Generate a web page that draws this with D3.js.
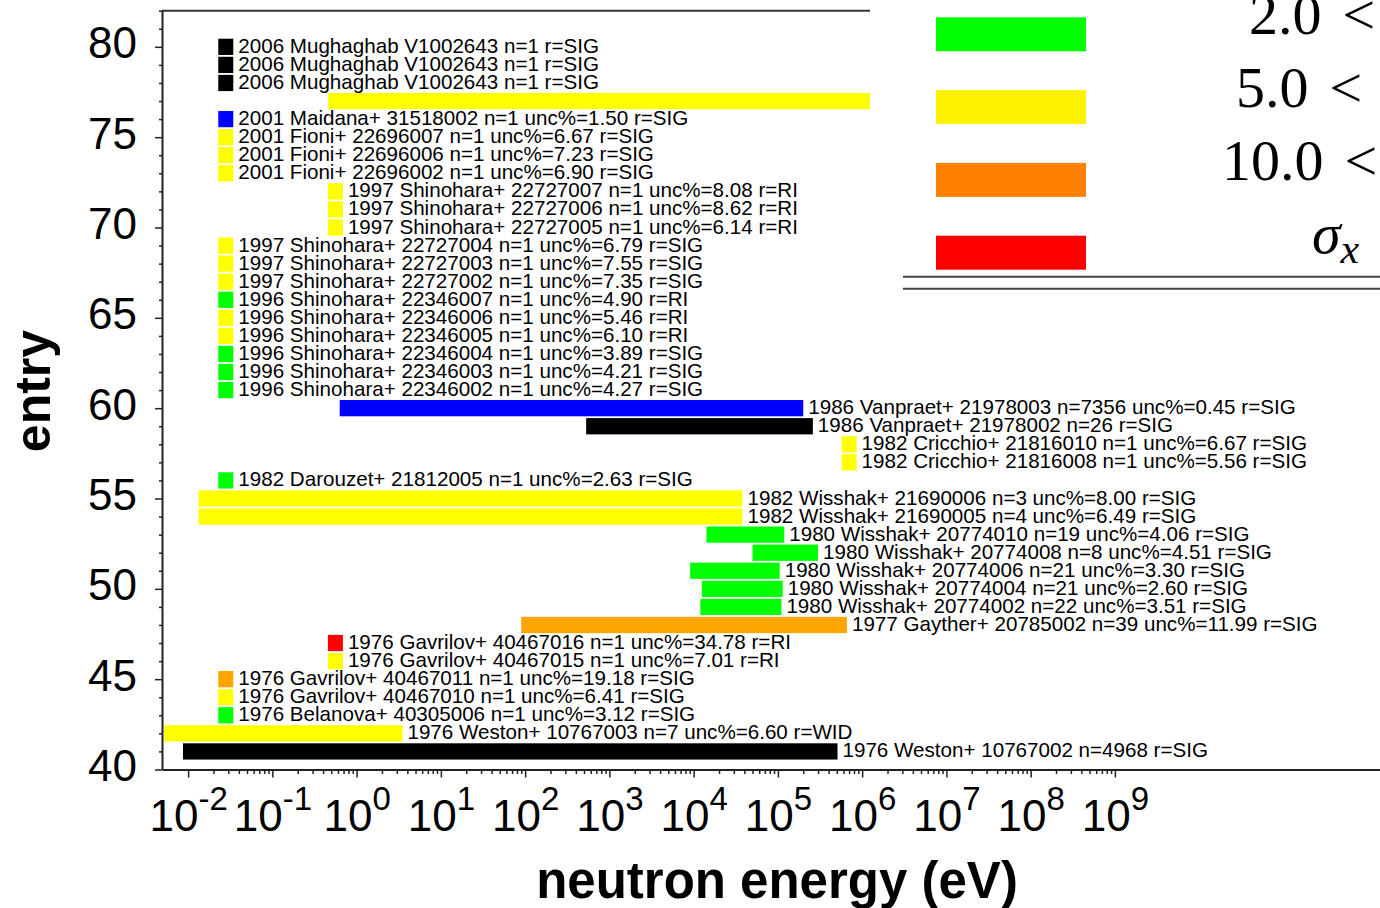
<!DOCTYPE html>
<html>
<head>
<meta charset="utf-8">
<script src="https://cdn.jsdelivr.net/npm/d3@7"></script>
<style>
  body { margin: 0; background: #fff; }
  svg { display: block; font-family: "Liberation Sans", Arial, sans-serif; }
</style>
</head>
<body>
<svg id="chart" width="1380" height="908"></svg>
<script>
// one row per EXFOR entry, top to bottom
const entries = [80, 79, 78, 77, 76, 75, 74, 73, 72, 71, 70, 69, 68, 67, 66, 65, 64, 63, 62, 61,
  60, 59, 58, 57, 56, 55, 54, 53, 52, 51, 50, 49, 48, 47, 46, 45, 44, 43, 42, 41];

const labels = [
  '2006 Mughaghab V1002643 n=1 r=SIG',
  '2006 Mughaghab V1002643 n=1 r=SIG',
  '2006 Mughaghab V1002643 n=1 r=SIG',
  '',
  '2001 Maidana+ 31518002 n=1 unc%=1.50 r=SIG',
  '2001 Fioni+ 22696007 n=1 unc%=6.67 r=SIG',
  '2001 Fioni+ 22696006 n=1 unc%=7.23 r=SIG',
  '2001 Fioni+ 22696002 n=1 unc%=6.90 r=SIG',
  '1997 Shinohara+ 22727007 n=1 unc%=8.08 r=RI',
  '1997 Shinohara+ 22727006 n=1 unc%=8.62 r=RI',
  '1997 Shinohara+ 22727005 n=1 unc%=6.14 r=RI',
  '1997 Shinohara+ 22727004 n=1 unc%=6.79 r=SIG',
  '1997 Shinohara+ 22727003 n=1 unc%=7.55 r=SIG',
  '1997 Shinohara+ 22727002 n=1 unc%=7.35 r=SIG',
  '1996 Shinohara+ 22346007 n=1 unc%=4.90 r=RI',
  '1996 Shinohara+ 22346006 n=1 unc%=5.46 r=RI',
  '1996 Shinohara+ 22346005 n=1 unc%=6.10 r=RI',
  '1996 Shinohara+ 22346004 n=1 unc%=3.89 r=SIG',
  '1996 Shinohara+ 22346003 n=1 unc%=4.21 r=SIG',
  '1996 Shinohara+ 22346002 n=1 unc%=4.27 r=SIG',
  '1986 Vanpraet+ 21978003 n=7356 unc%=0.45 r=SIG',
  '1986 Vanpraet+ 21978002 n=26 r=SIG',
  '1982 Cricchio+ 21816010 n=1 unc%=6.67 r=SIG',
  '1982 Cricchio+ 21816008 n=1 unc%=5.56 r=SIG',
  '1982 Darouzet+ 21812005 n=1 unc%=2.63 r=SIG',
  '1982 Wisshak+ 21690006 n=3 unc%=8.00 r=SIG',
  '1982 Wisshak+ 21690005 n=4 unc%=6.49 r=SIG',
  '1980 Wisshak+ 20774010 n=19 unc%=4.06 r=SIG',
  '1980 Wisshak+ 20774008 n=8 unc%=4.51 r=SIG',
  '1980 Wisshak+ 20774006 n=21 unc%=3.30 r=SIG',
  '1980 Wisshak+ 20774004 n=21 unc%=2.60 r=SIG',
  '1980 Wisshak+ 20774002 n=22 unc%=3.51 r=SIG',
  '1977 Gayther+ 20785002 n=39 unc%=11.99 r=SIG',
  '1976 Gavrilov+ 40467016 n=1 unc%=34.78 r=RI',
  '1976 Gavrilov+ 40467015 n=1 unc%=7.01 r=RI',
  '1976 Gavrilov+ 40467011 n=1 unc%=19.18 r=SIG',
  '1976 Gavrilov+ 40467010 n=1 unc%=6.41 r=SIG',
  '1976 Belanova+ 40305006 n=1 unc%=3.12 r=SIG',
  '1976 Weston+ 10767003 n=7 unc%=6.60 r=WID',
  '1976 Weston+ 10767002 n=4968 r=SIG'
];

// energy range in eV (eHigh null = single energy point)
const eLow = [0.028, 0.028, 0.028, 0.46, 0.028, 0.028, 0.028, 0.028, 0.56, 0.56, 0.56,
  0.028, 0.028, 0.028, 0.028, 0.028, 0.028, 0.028, 0.028, 0.028,
  0.63, 530, 7e5, 7e5, 0.028, 0.0133, 0.0133, 1.42e4, 5.0e4, 9.1e3, 1.25e4, 1.2e4, 90,
  0.56, 0.56, 0.028, 0.028, 0.028, 0.0052, 0.0087];
const eHigh = [null, null, null, 2e7, null, null, null, null, null, null, null,
  null, null, null, null, null, null, null, null, null,
  2.0e5, 2.6e5, null, null, null, 3.8e4, 3.8e4, 1.19e5, 3.0e5, 1.05e5, 1.14e5, 1.1e5, 6.6e5,
  null, null, null, null, null, 3.5, 5.1e5];

// uncertainty class of each entry
const uncClass = ['none', 'none', 'none', '5-10', 'lt2', '5-10', '5-10', '5-10', '5-10', '5-10', '5-10',
  '5-10', '5-10', '5-10', '2-5', '5-10', '5-10', '2-5', '2-5', '2-5',
  'lt2', 'none', '5-10', '5-10', '2-5', '5-10', '5-10', '2-5', '2-5', '2-5', '2-5', '2-5', '10-20',
  'gt20', '5-10', '10-20', '5-10', '2-5', '5-10', 'none'];

const xExponents = [-2, -1, 0, 1, 2, 3, 4, 5, 6, 7, 8, 9];
const yTicks = [40, 45, 50, 55, 60, 65, 70, 75, 80];

const legendClasses = ['2-5', '5-10', '10-20', 'gt20'];
const legendLabels = ['2.0', '5.0', '10.0', 'σ'];

const svg = d3.select('#chart');
svg.append('rect').attr('width', 1380).attr('height', 908).attr('fill', '#fff');

const x = d3.scaleLog().domain([0.0049, 1.4e12]).range([162, 1380]);
const y = d3.scaleLinear().domain([40, 82]).range([769.5, 10.7]);
const color = d3.scaleOrdinal()
  .domain(['none', 'lt2', '2-5', '5-10', '10-20', 'gt20'])
  .range(['#000000', '#0000ff', '#00ff00', '#ffff00', '#ffa500', '#ff0000']);

const rows = entries.map((e, i) => ({ entry: e, label: labels[i], lo: eLow[i], hi: eHigh[i], cls: uncClass[i] }));
const halfH = (y(40) - y(40.9)) / 2;
const pointW = 15;

const x0 = d => d.hi === null ? x(d.lo) - pointW / 2 : x(d.lo);
const x1 = d => d.hi === null ? x(d.lo) + pointW / 2 : x(d.hi);

// frame top line
svg.append('line')
  .attr('x1', 162).attr('x2', 1380)
  .attr('y1', y(82)).attr('y2', y(82))
  .attr('stroke', '#333').attr('stroke-width', 2);

svg.append('g')
  .selectAll('rect')
  .data(rows)
  .enter()
  .append('rect')
  .attr('x', x0)
  .attr('y', d => y(d.entry) - halfH)
  .attr('width', d => x1(d) - x0(d))
  .attr('height', halfH * 2)
  .attr('fill', d => color(d.cls));

svg.append('g')
  .selectAll('text')
  .data(rows.filter(d => d.label))
  .enter()
  .append('text')
  .attr('x', d => x1(d) + 5)
  .attr('y', d => y(d.entry) + 6)
  .attr('font-size', 20.6)
  .attr('fill', '#000')
  .text(d => d.label);

// x axis: minor then major ticks
const majors = xExponents.map(k => Math.pow(10, k));
const minors = [];
xExponents.slice(0, -1).forEach(k => d3.range(2, 10).forEach(m => minors.push(m * Math.pow(10, k))));

const gxMinor = svg.append('g')
  .attr('transform', `translate(0, ${y(40)})`)
  .call(d3.axisBottom(x).tickValues(minors).tickSize(4.5).tickSizeOuter(0).tickFormat(''));
gxMinor.select('.domain').attr('stroke', '#222').attr('stroke-width', 2);
gxMinor.selectAll('.tick line').attr('stroke', '#222').attr('stroke-width', 1.5);

const gx = svg.append('g')
  .attr('transform', `translate(0, ${y(40)})`)
  .call(d3.axisBottom(x).tickValues(majors).tickSize(8).tickSizeOuter(0));
gx.select('.domain').remove();
gx.selectAll('.tick line').attr('stroke', '#222').attr('stroke-width', 1.5);
gx.selectAll('.tick text').each(function (d) {
  const t = d3.select(this).text(null)
    .attr('y', 61.5).attr('dy', null)
    .attr('font-size', 44).attr('fill', '#000')
    .attr('font-family', '"Liberation Sans", Arial, sans-serif');
  t.append('tspan').text('10');
  t.append('tspan').attr('dy', -21).attr('font-size', 33).text(Math.round(Math.log10(d)));
});

// y axis
const gyMinor = svg.append('g')
  .attr('transform', 'translate(162, 0)')
  .call(d3.axisLeft(y).tickValues(d3.range(41, 83).filter(v => v % 5)).tickSize(3).tickSizeOuter(0).tickFormat(''));
gyMinor.select('.domain').attr('stroke', '#222').attr('stroke-width', 2);
gyMinor.selectAll('.tick line').attr('stroke', '#222').attr('stroke-width', 1.5);

const gy = svg.append('g')
  .attr('transform', 'translate(162, 0)')
  .call(d3.axisLeft(y).tickValues(yTicks).tickSize(7).tickPadding(18).tickSizeOuter(0));
gy.select('.domain').remove();
gy.selectAll('.tick line').attr('stroke', '#222').attr('stroke-width', 1.5);
gy.selectAll('.tick text')
  .attr('font-size', 44).attr('fill', '#000').attr('dy', '0.25em')
  .attr('font-family', '"Liberation Sans", Arial, sans-serif');

// axis titles
svg.append('text')
  .attr('x', 777).attr('y', 898)
  .attr('text-anchor', 'middle')
  .attr('font-size', 51).attr('font-weight', 'bold')
  .text('neutron energy (eV)');

svg.append('text')
  .attr('transform', 'translate(50, 391) rotate(-90)')
  .attr('text-anchor', 'middle')
  .attr('font-size', 50).attr('font-weight', 'bold')
  .text('entry');

// legend (cropped table in the top right corner)
const legend = svg.append('g');
legend.append('rect')
  .attr('x', 870).attr('y', 0).attr('width', 510).attr('height', 295)
  .attr('fill', '#fff');

const legendColor = d3.scaleOrdinal()
  .domain(legendClasses)
  .range(['#00ff00', '#fff200', '#ff8000', '#ff0000']);
const legendY = d3.scalePoint().domain(legendClasses).range([17.3, 235.7]);
const legendTextX = [1249, 1236, 1222, 1312];

legend.selectAll('.swatch')
  .data(legendClasses)
  .enter()
  .append('rect')
  .attr('class', 'swatch')
  .attr('x', 936).attr('y', d => legendY(d))
  .attr('width', 150).attr('height', 34)
  .attr('fill', d => legendColor(d));

legendClasses.forEach((c, i) => {
  const t = legend.append('text')
    .attr('x', legendTextX[i]).attr('y', legendY(c) + 17)
    .attr('font-family', '"Liberation Serif", "Times New Roman", serif')
    .attr('font-size', 58).attr('fill', '#000');
  if (i < 3) {
    t.text(legendLabels[i]);
    const w = t.node().getComputedTextLength();
    legend.append('text')
      .attr('x', legendTextX[i] + w + 21).attr('y', legendY(c) + 17)
      .attr('font-family', '"Liberation Serif", "Times New Roman", serif')
      .attr('font-size', 58).attr('fill', '#000')
      .text('<');
  } else {
    t.append('tspan').attr('font-style', 'italic').text(legendLabels[i]);
    t.append('tspan').attr('font-style', 'italic').attr('font-size', 42).attr('dy', 10).text('x');
  }
});

legend.selectAll('.rule')
  .data([276.7, 288.7])
  .enter()
  .append('line')
  .attr('x1', 903).attr('x2', 1380)
  .attr('y1', d => d).attr('y2', d => d)
  .attr('stroke', '#444').attr('stroke-width', 2);
</script>
</body>
</html>
